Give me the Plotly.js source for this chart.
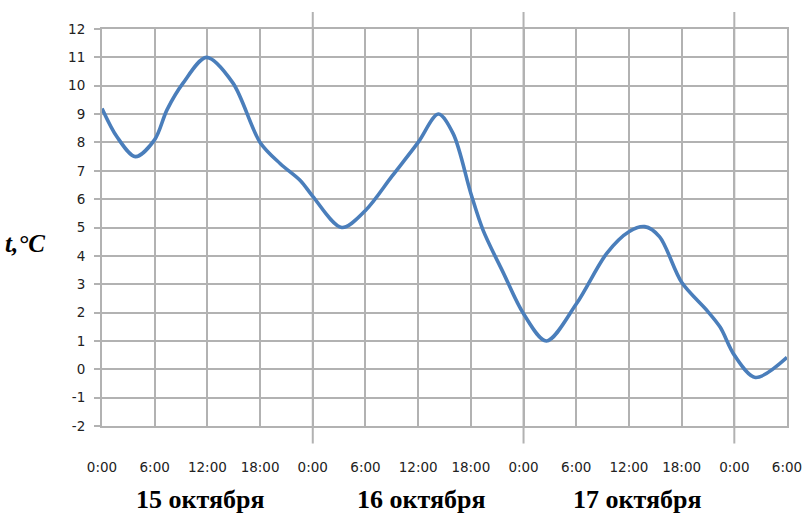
<!DOCTYPE html>
<html>
<head>
<meta charset="utf-8">
<script src="https://cdn.plot.ly/plotly-3.0.1.min.js"></script>
<style>html,body{margin:0;padding:0;background:#fff;}</style>
</head>
<body>
<div id="chart" style="width:812px;height:531px;"></div>
<script>
// Hours since 0:00 on 15 October
const hours = [0, 1.7, 3.8, 6, 7.4, 9.25, 11.9, 14.9, 18, 20.3, 22.6, 24, 27.3, 30, 33, 36, 38.3, 40, 42, 43.4, 45.7, 48, 50.6, 54, 57.5, 60, 61.8, 63.5, 66, 68.9, 70.4, 72, 74.4, 78];
const temps = [9.2, 8.2, 7.5, 8.1, 9.15, 10.1, 11.0, 10.1, 8.0, 7.25, 6.65, 6.1, 5.0, 5.6, 6.8, 8.0, 9.0, 8.3, 6.2, 4.9, 3.4, 1.96, 1.0, 2.3, 4.1, 4.85, 5.03, 4.67, 3.07, 2.07, 1.48, 0.5, -0.29, 0.42];
const tickHours = [0, 6, 12, 18, 24, 30, 36, 42, 48, 54, 60, 66, 72, 78];
const tickLabels = ["0:00", "6:00", "12:00", "18:00", "0:00", "6:00", "12:00", "18:00", "0:00", "6:00", "12:00", "18:00", "0:00", "6:00"];
const midnights = [24, 48, 72];
const dayLabels = ["15 октября", "16 октября", "17 октября"];
const dayLabelHours = [11.2, 36.4, 61];
const yTicks = [-2, -1, 0, 1, 2, 3, 4, 5, 6, 7, 8, 9, 10, 11, 12];
const yTickLabels = ["-2", "-1", "0", "1", "2", "3", "4", "5", "6", "7", "8", "9", "10", "11", "12"];

const gridColor = "#b2b2b2";
const gw = 2;
const trace = {
  x: hours, y: temps, type: "scatter", mode: "lines",
  line: {color: "#4a7ebb", width: 3.6, shape: "spline", smoothing: 0.9},
  hoverinfo: "skip"
};

const shapes = midnights.map(h => ({
  type: "line", xref: "x", yref: "paper", x0: h, x1: h, y0: -0.044, y1: 1.043,
  line: {color: gridColor, width: gw}, layer: "below"
}));

const annotations = dayLabels.map((t, i) => ({
  text: t, xref: "x", yref: "paper", x: dayLabelHours[i], y: -0.185,
  showarrow: false, xanchor: "center", yanchor: "middle",
  font: {family: "Liberation Serif", size: 26, color: "#000", weight: "bold"}
}));
annotations.push({
  text: "<b><i>t,°C</i></b>", xref: "paper", yref: "paper", x: -0.113, y: 0.46,
  showarrow: false, xanchor: "center", yanchor: "middle",
  font: {family: "Liberation Serif", size: 25, color: "#000"}
});

const layout = {
  width: 812, height: 531,
  margin: {l: 102, r: 25, t: 29, b: 105},
  paper_bgcolor: "#fff", plot_bgcolor: "#fff",
  showlegend: false,
  xaxis: {
    range: [0, 78], tickmode: "array", tickvals: tickHours, ticktext: tickLabels,
    showgrid: true, gridcolor: gridColor, gridwidth: gw,
    showline: true, linecolor: gridColor, linewidth: gw, mirror: true,
    zeroline: false, ticks: "", ticklabelstandoff: 28,
    tickfont: {family: "DejaVu Sans", size: 13.5, color: "#222"}
  },
  yaxis: {
    range: [-2, 12], tickmode: "array", tickvals: yTicks, ticktext: yTickLabels,
    showgrid: true, gridcolor: gridColor, gridwidth: gw,
    showline: true, linecolor: gridColor, linewidth: gw, mirror: true,
    zeroline: false, ticks: "outside", ticklen: 6, tickcolor: gridColor, tickwidth: gw,
    ticklabelstandoff: 6,
    tickfont: {family: "DejaVu Sans", size: 13.5, color: "#222"}
  },
  shapes: shapes,
  annotations: annotations
};

Plotly.newPlot("chart", [trace], layout, {displayModeBar: false, staticPlot: true});
</script>
</body>
</html>
